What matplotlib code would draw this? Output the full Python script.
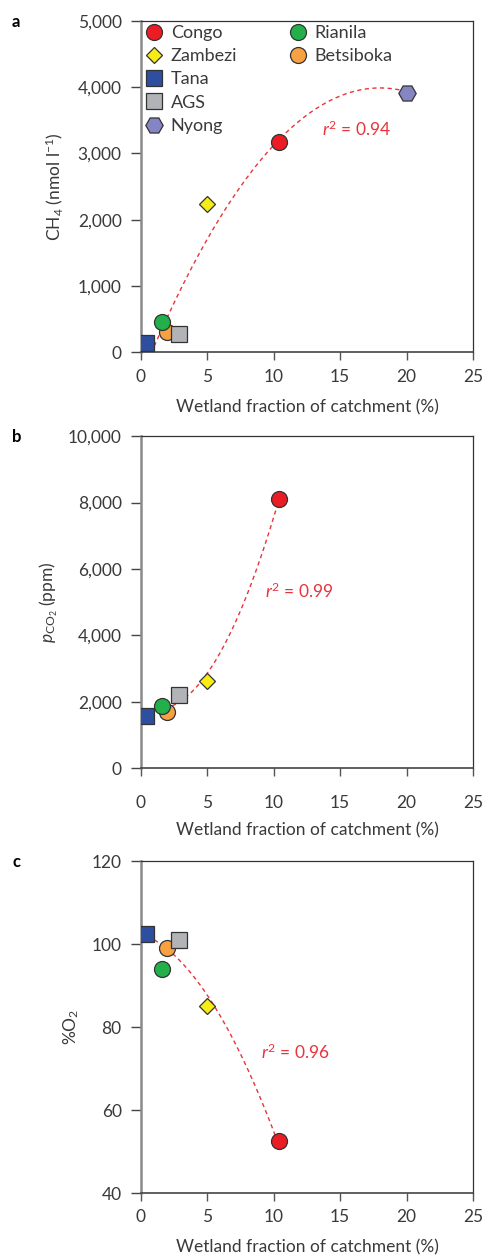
import numpy as np
import matplotlib
matplotlib.use("Agg")
from matplotlib import pyplot as plt
from matplotlib.ticker import FixedLocator

plt.rcParams['font.family'] = ['Lato', 'DejaVu Sans']
plt.rcParams['mathtext.fontset'] = 'custom'
plt.rcParams['mathtext.rm'] = 'Lato'
plt.rcParams['mathtext.it'] = 'Lato:italic'
plt.rcParams['mathtext.default'] = 'regular'

# data
rivers = ["Congo", "Zambezi", "Tana", "AGS", "Nyong", "Rianila", "Betsiboka"]
wetland = [10.4, 5.0, 0.35, 2.85, 20.0, 1.6, 1.95]
ch4 = [3180, 2230, 130, 270, 3920, 460, 300]
pco2 = [8100, 2620, 1580, 2200, np.nan, 1880, 1680]
o2 = [52.5, 85, 102.5, 101, np.nan, 94, 99]

# fitted curves (quadratic coefficients, x range) and r2 labels
fit_a = [-13.5, 486.0, -384.0]
fit_a_range = [1.0, 19.5]
fit_b = [74.4, -174.6, 1873.0]
fit_b_range = [1.8, 10.2]
fit_c = [-0.3585, -1.19, 102.55]
fit_c_range = [1.0, 10.1]
r2_labels = ["0.94", "0.99", "0.96"]

x_ticks = [0, 5, 10, 15, 20, 25]
ticks_a = [0, 1000, 2000, 3000, 4000, 5000]
ticks_b = [0, 2000, 4000, 6000, 8000, 10000]
ticks_c = [40, 60, 80, 100, 120]

colors = {"Congo": "#ec1c24", "Zambezi": "#f7ec13", "Tana": "#2e4f9f",
          "AGS": "#b1b3b6", "Nyong": "#8585c4", "Rianila": "#23b04b",
          "Betsiboka": "#f7a143"}
markers = {"Congo": "o", "Zambezi": "D", "Tana": "s", "AGS": "s",
           "Nyong": "H", "Rianila": "o", "Betsiboka": "o"}
msizes = {"Congo": 11.5, "Zambezi": 8.5, "Tana": 11.5, "AGS": 11.5,
          "Nyong": 12.5, "Rianila": 11.5, "Betsiboka": 11.5}
draw_order = ["Betsiboka", "Tana", "Rianila", "AGS", "Zambezi", "Congo", "Nyong"]

txt = "#3a3a3a"
fit_col = "#e8343c"
fs = 12.5

fig = plt.figure(figsize=(4.85, 12.55), dpi=100)
left, width = 0.2907, 0.6845
axes = [fig.add_axes([left, 0.7195, width, 0.2637]),
        fig.add_axes([left, 0.3880, width, 0.2645]),
        fig.add_axes([left, 0.0494, width, 0.2645])]
yvals = [ch4, pco2, o2]
fits = [(fit_a, fit_a_range), (fit_b, fit_b_range), (fit_c, fit_c_range)]
yticks = [ticks_a, ticks_b, ticks_c]
ylabels = [r"CH$_4$ (nmol l$^{-1}$)", r"$\mathit{p}_{\mathrm{CO_2}}$ (ppm)", r"%O$_2$"]
ylabel_x = [-0.262, -0.277, -0.211]
xlabel_y = [-0.168, -0.187, -0.163]
xpads = [5.8, 13.3, 5.5]
r2_pos = [(13.6, 3370), (9.35, 5310), (9.0, 74)]
letters = ["a", "b", "c"]

handles = {}
for i, ax in enumerate(axes):
    coef, rng = fits[i]
    xx = np.linspace(rng[0], rng[1], 200)
    ax.plot(xx, np.polyval(coef, xx), color=fit_col, lw=1.0,
            linestyle=(0, (3, 2.5)), zorder=2)
    for r in draw_order:
        k = rivers.index(r)
        y = yvals[i][k]
        if np.isnan(y):
            continue
        h, = ax.plot(wetland[k], y, linestyle="none", marker=markers[r],
                     ms=msizes[r], mfc=colors[r], mec="#333333", mew=0.9,
                     zorder=3, label=r)
        if i == 0:
            handles[r] = h
    ax.set_xlim(0, 25)
    ax.set_ylim(yticks[i][0], yticks[i][-1])
    ax.xaxis.set_major_locator(FixedLocator(x_ticks))
    ax.yaxis.set_major_locator(FixedLocator(yticks[i]))
    if i < 2:
        ax.set_yticklabels([f"{v:,}" for v in yticks[i]])
    else:
        ax.set_yticklabels([str(v) for v in yticks[i]])
    ax.set_xticklabels([str(v) for v in x_ticks])
    ax.tick_params(axis="y", direction="out", length=7.2, width=1,
                   labelsize=fs, labelcolor=txt, color="#444444", pad=6.7)
    ax.tick_params(axis="x", direction="out", length=6.1, width=1,
                   labelsize=fs, labelcolor=txt, color="#555555", pad=xpads[i])
    for s in ["top", "right"]:
        ax.spines[s].set_color("#333333")
        ax.spines[s].set_linewidth(0.9)
    ax.spines["left"].set_color("#8a8a8a")
    ax.spines["left"].set_linewidth(1.8)
    ax.spines["bottom"].set_color("#444444")
    ax.spines["bottom"].set_linewidth(1.2)
    ax.set_xlabel("Wetland fraction of catchment (%)", fontsize=fs, color=txt,
                  va="center")
    ax.xaxis.set_label_coords(0.5, xlabel_y[i])
    ax.set_ylabel(ylabels[i], fontsize=fs, color=txt, va="center")
    ax.yaxis.set_label_coords(ylabel_x[i], 0.5)
    ax.text(r2_pos[i][0], r2_pos[i][1], r"$\mathit{r}^2$ = " + r2_labels[i],
            color=fit_col, fontsize=fs, va="center", ha="left")
    bb = ax.get_position()
    fig.text(0.025, bb.y1 - 5.5 / 1255, letters[i], fontsize=12, fontweight="bold",
             color="black", va="baseline", ha="left")

col1 = ["Congo", "Zambezi", "Tana", "AGS", "Nyong"]
col2 = ["Rianila", "Betsiboka"]
leg_kw = dict(frameon=False, fontsize=13, handlelength=0.9, handletextpad=0.46,
              labelspacing=0.4, borderpad=0.0, borderaxespad=0.0,
              labelcolor=txt, numpoints=1)
leg1 = axes[0].legend([handles[r] for r in col1], col1, loc="upper left",
                      bbox_to_anchor=(0.0157, 0.988), **leg_kw)
axes[0].add_artist(leg1)
axes[0].legend([handles[r] for r in col2], col2, loc="upper left",
               bbox_to_anchor=(0.4476, 0.988), **leg_kw)

fig.savefig("out.png", dpi=100)
